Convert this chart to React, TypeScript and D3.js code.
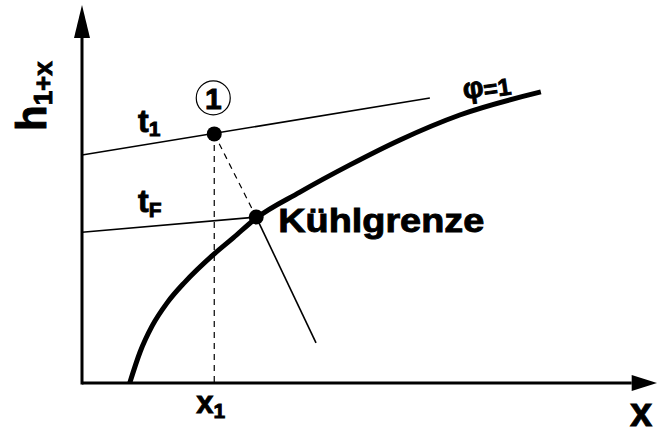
import * as d3 from "d3";

// h,x-diagram sketch: saturation line (phi = 1), two isotherms, wet-bulb (cooling limit)
const saturationX = [8.3, 10.1, 12.2, 14.8, 17.9, 22.8, 26.3, 30.1, 37.9, 46.6, 55.3, 65.7, 79.8];
const saturationH = [0, 8.2, 15.1, 21.2, 26.7, 33.9, 38.4, 43.4, 50.5, 57.7, 64.3, 70.9, 77.0];

const isothermT1X = [0, 60.5];
const isothermT1H = [60.3, 75.4];

const isothermTFX = [0, 30.3];
const isothermTFH = [39.9, 43.9];

// state 1 -> cooling limit (dashed), cooling limit -> continuation (solid)
const wetBulbX = [23.0, 30.3, 40.7];
const wetBulbH = [65.9, 43.9, 10.6];

const state1 = { x: 23.0, h: 65.9 };
const coolingLimit = { x: 30.3, h: 43.9 };

const xArrowBase = 95.6;
const hArrowBase = 91.3;

const font = "'Liberation Sans', Arial, Helvetica, sans-serif";

function App() {
  const width = 659;
  const height = 429;

  const xScale = d3.scaleLinear().domain([0, 100]).range([82, 657]);
  const hScale = d3.scaleLinear().domain([0, 100]).range([383, 5]);

  const line = d3
    .line<[number, number]>()
    .x((d) => xScale(d[0]))
    .y((d) => hScale(d[1]));

  const satLine = d3
    .line<[number, number]>()
    .x((d) => xScale(d[0]))
    .y((d) => hScale(d[1]))
    .curve(d3.curveMonotoneX);

  const zip = (xs: number[], hs: number[]) => xs.map((x, i) => [x, hs[i]] as [number, number]);

  const x0 = xScale(0);
  const y0 = hScale(0);
  const xTip = xScale(100);
  const yTip = hScale(100);
  const xBase = xScale(xArrowBase);
  const yBase = hScale(hArrowBase);

  const p1x = xScale(state1.x);
  const p1y = hScale(state1.h);
  const pkx = xScale(coolingLimit.x);
  const pky = hScale(coolingLimit.h);

  const wet = zip(wetBulbX, wetBulbH);

  // a thin outline makes the bold labels as heavy as in the drawing
  const heavy = { stroke: "#000", strokeWidth: 0.9 };

  return (
    <svg
      width={width}
      height={height}
      style={{ position: "absolute", left: 0, top: 0, background: "#fff" }}
      fontFamily={font}
      fontWeight={700}
    >
      {/* axes */}
      <line x1={x0} y1={y0} x2={xBase} y2={y0} stroke="#000" strokeWidth={3} />
      <polygon points={`${xBase},${y0 - 8} ${xTip},${y0} ${xBase},${y0 + 8}`} fill="#000" />
      <line x1={x0} y1={y0 + 1.5} x2={x0} y2={yBase} stroke="#000" strokeWidth={3} />
      <polygon points={`${x0 - 8},${yBase} ${x0},${yTip} ${x0 + 8},${yBase}`} fill="#000" />

      {/* isotherms */}
      <path d={line(zip(isothermT1X, isothermT1H)) ?? ""} fill="none" stroke="#000" strokeWidth={1.6} />
      <path d={line(zip(isothermTFX, isothermTFH)) ?? ""} fill="none" stroke="#000" strokeWidth={1.6} />

      {/* x1 drop line */}
      <line x1={p1x} y1={p1y} x2={p1x} y2={y0} stroke="#000" strokeWidth={1.2} strokeDasharray="6,5" />

      {/* wet-bulb line */}
      <path d={line(wet.slice(0, 2)) ?? ""} fill="none" stroke="#000" strokeWidth={1.2} strokeDasharray="6,5" />
      <path d={line(wet.slice(1)) ?? ""} fill="none" stroke="#000" strokeWidth={1.6} />

      {/* saturation line */}
      <path d={satLine(zip(saturationX, saturationH)) ?? ""} fill="none" stroke="#000" strokeWidth={5} />

      {/* points */}
      <circle cx={p1x} cy={p1y} r={7.5} fill="#000" />
      <circle cx={pkx} cy={pky} r={7.5} fill="#000" />

      {/* state label */}
      <circle cx={p1x - 1} cy={p1y - 36} r={17} fill="none" stroke="#000" strokeWidth={1.2} />
      <text x={p1x - 1} y={p1y - 25} textAnchor="middle" fontSize={30} {...heavy}>1</text>

      {/* labels */}
      <text x={138} y={132} fontSize={32} {...heavy}>
        t<tspan fontSize={21} dy={4}>1</tspan>
      </text>
      <text x={138} y={212} fontSize={32} {...heavy}>
        t<tspan fontSize={21} dy={5}>F</tspan>
      </text>
      <text x={pkx + 22} y={pky + 15} fontSize={34} textLength={206} lengthAdjust="spacingAndGlyphs" {...heavy}>
        Kühlgrenze
      </text>
      <text x={464} y={99} fontSize={29} transform="rotate(-8 464 99)" {...heavy}>
        φ<tspan fontSize={24} dy={2}>=1</tspan>
      </text>
      <text x={p1x - 18} y={413} fontSize={31} {...heavy}>
        x<tspan fontSize={21} dy={5}>1</tspan>
      </text>
      <text x={630} y={426} fontSize={40} {...heavy}>x</text>

      <text transform="translate(46,131) rotate(-90)" fontSize={42} {...heavy}>
        h<tspan fontSize={26} dy={6}>1+x</tspan>
      </text>
    </svg>
  );
}

export default App;
